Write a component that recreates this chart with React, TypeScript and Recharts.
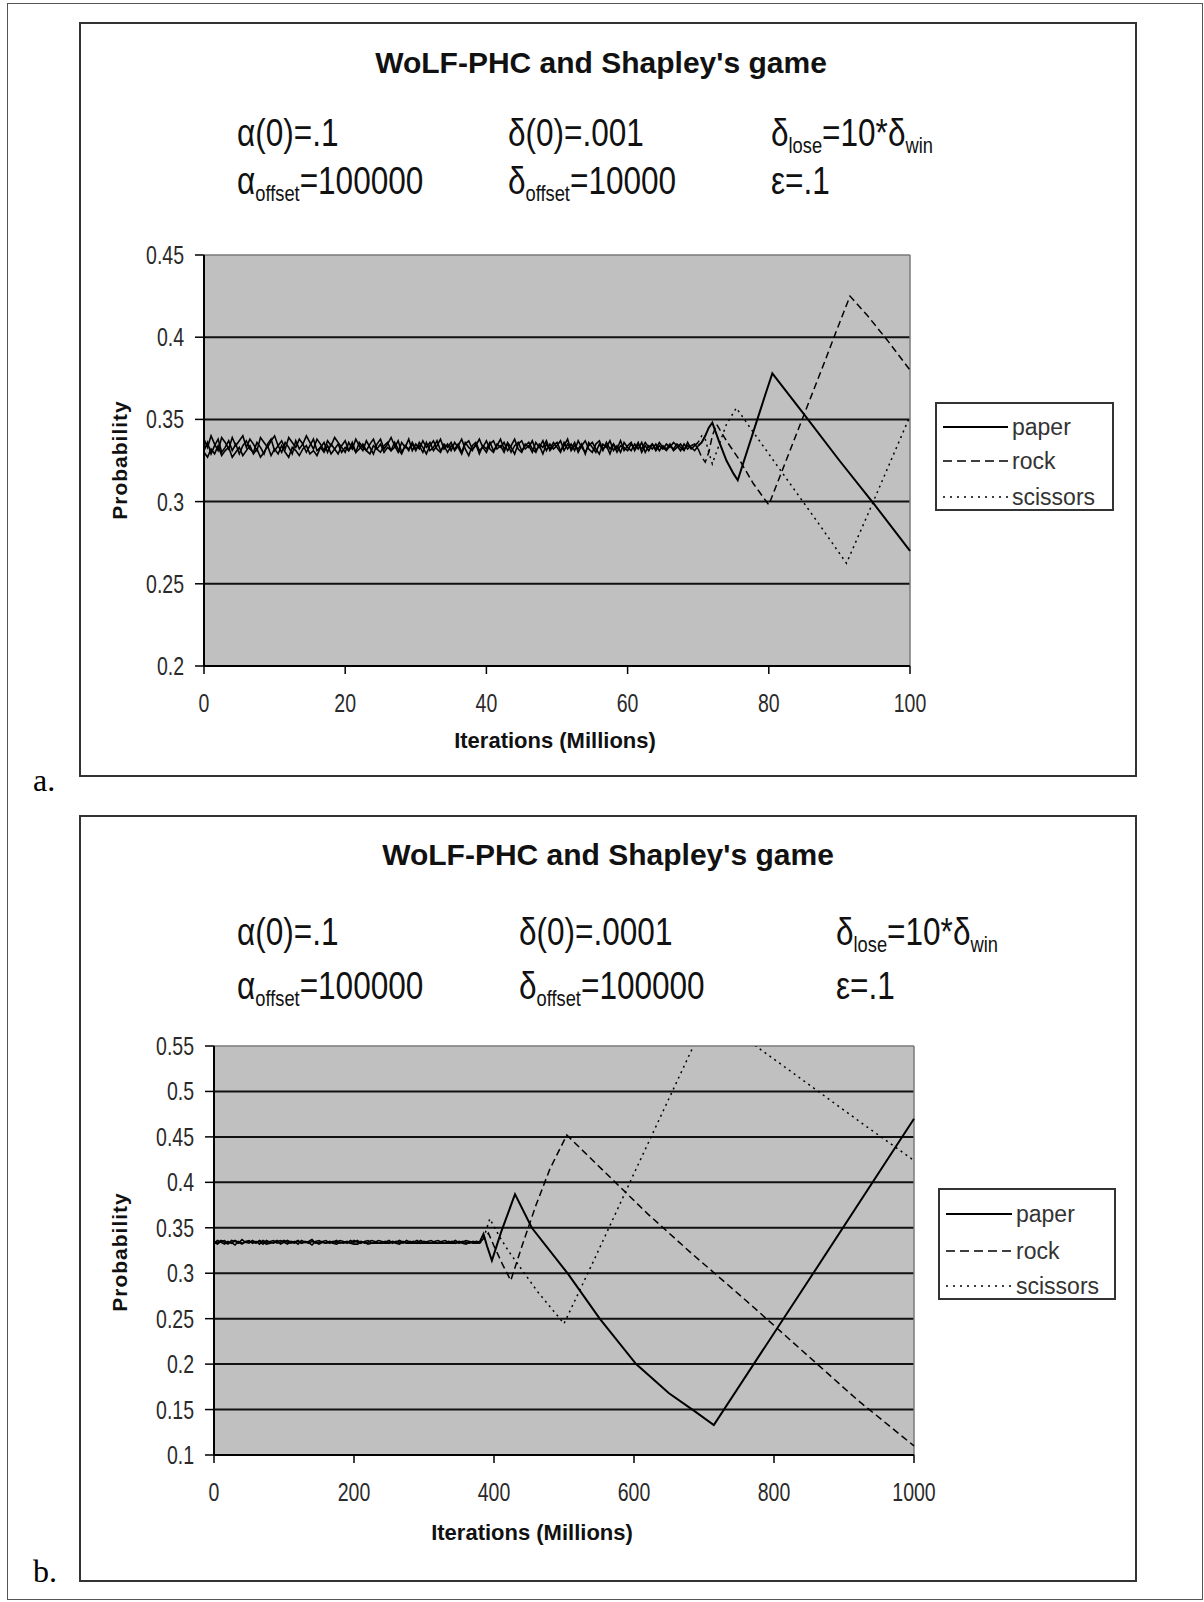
import React from "react";
import { LineChart, Line, XAxis, YAxis, CartesianGrid, ReferenceLine } from "recharts";

const SANS = "'Liberation Sans', Arial, Helvetica, sans-serif";
const SERIF = "'Liberation Serif', 'DejaVu Serif', serif";

// ---------- run (a): 0–100M iterations, sampled every 0.5M up to 70M ----------
const stepA = 0.5;
const paperNoiseA = [
  0.331, 0.336, 0.329, 0.334, 0.338, 0.33, 0.333, 0.337, 0.331, 0.335,
  0.329, 0.334, 0.337, 0.332, 0.33, 0.336, 0.333, 0.329, 0.335, 0.338,
  0.331, 0.334, 0.33, 0.336, 0.333, 0.329, 0.337, 0.332, 0.335, 0.33,
  0.334, 0.338, 0.331, 0.333, 0.336, 0.33, 0.335, 0.332, 0.329, 0.334,
  0.337, 0.331, 0.334, 0.33, 0.336, 0.333, 0.331, 0.335, 0.338, 0.332,
  0.33, 0.334, 0.336, 0.331, 0.333, 0.337, 0.33, 0.334, 0.332, 0.335,
  0.331, 0.336, 0.333, 0.329, 0.334, 0.337, 0.332, 0.33, 0.335, 0.333,
  0.336, 0.331, 0.334, 0.338, 0.332, 0.328, 0.334, 0.336, 0.331, 0.333,
  0.337, 0.332, 0.33, 0.335, 0.333, 0.336, 0.331, 0.334, 0.338, 0.332,
  0.33, 0.335, 0.333, 0.337, 0.331, 0.334, 0.329, 0.335, 0.332, 0.336,
  0.333, 0.33, 0.336, 0.332, 0.335, 0.331, 0.337, 0.333, 0.33, 0.334,
  0.336, 0.332, 0.329, 0.335, 0.333, 0.337, 0.331, 0.334, 0.33, 0.336,
  0.333, 0.331, 0.335, 0.332, 0.336, 0.33, 0.334, 0.332, 0.335, 0.331,
  0.334, 0.332, 0.335, 0.331, 0.333, 0.335, 0.332, 0.334, 0.333, 0.331,
  0.334,
];
const rockNoiseA = [
  0.338, 0.333, 0.34, 0.335, 0.331, 0.339, 0.336, 0.332, 0.339, 0.334,
  0.337, 0.34, 0.333, 0.338, 0.335, 0.331, 0.339, 0.336, 0.333, 0.337,
  0.34, 0.334, 0.337, 0.332, 0.339, 0.336, 0.333, 0.338, 0.335, 0.34,
  0.336, 0.332, 0.338, 0.335, 0.331, 0.337, 0.334, 0.339, 0.336, 0.333,
  0.33, 0.336, 0.332, 0.338, 0.334, 0.331, 0.337, 0.333, 0.329, 0.335,
  0.338, 0.332, 0.335, 0.339, 0.334, 0.33, 0.336, 0.333, 0.338, 0.331,
  0.335, 0.332, 0.337, 0.333, 0.336, 0.331, 0.334, 0.338, 0.332, 0.335,
  0.331, 0.336, 0.333, 0.329, 0.335, 0.337, 0.332, 0.334, 0.338, 0.333,
  0.33, 0.335, 0.337, 0.332, 0.334, 0.33, 0.336, 0.333, 0.329, 0.335,
  0.337, 0.332, 0.334, 0.33, 0.336, 0.333, 0.337, 0.331, 0.335, 0.332,
  0.334, 0.337, 0.331, 0.335, 0.332, 0.336, 0.33, 0.334, 0.337, 0.332,
  0.33, 0.335, 0.337, 0.332, 0.334, 0.329, 0.335, 0.332, 0.337, 0.331,
  0.334, 0.336, 0.331, 0.335, 0.332, 0.336, 0.333, 0.335, 0.331, 0.334,
  0.332, 0.335, 0.333, 0.336, 0.334, 0.331, 0.335, 0.332, 0.334, 0.335,
  0.332,
];
const scissorsNoiseA = [
  0.33, 0.327, 0.332, 0.329, 0.334, 0.328, 0.331, 0.333, 0.327, 0.33,
  0.333, 0.328, 0.331, 0.334, 0.329, 0.332, 0.327, 0.33, 0.334, 0.328,
  0.332, 0.329, 0.334, 0.33, 0.327, 0.333, 0.331, 0.328, 0.332, 0.334,
  0.329, 0.331, 0.328, 0.333, 0.33, 0.334, 0.329, 0.332, 0.335, 0.33,
  0.333, 0.331, 0.336, 0.33, 0.332, 0.335, 0.331, 0.329, 0.334, 0.332,
  0.335, 0.33, 0.333, 0.331, 0.336, 0.332, 0.329, 0.334, 0.331, 0.336,
  0.332, 0.334, 0.33, 0.336, 0.331, 0.333, 0.337, 0.331, 0.334, 0.33,
  0.334, 0.332, 0.335, 0.33, 0.336, 0.333, 0.331, 0.335, 0.329, 0.334,
  0.332, 0.336, 0.331, 0.334, 0.338, 0.332, 0.335, 0.33, 0.334, 0.336,
  0.331, 0.334, 0.336, 0.332, 0.33, 0.335, 0.333, 0.337, 0.331, 0.334,
  0.336, 0.331, 0.334, 0.338, 0.331, 0.334, 0.332, 0.335, 0.329, 0.336,
  0.333, 0.33, 0.335, 0.331, 0.336, 0.332, 0.335, 0.33, 0.334, 0.333,
  0.331, 0.335, 0.332, 0.336, 0.33, 0.334, 0.331, 0.335, 0.332, 0.336,
  0.333, 0.331, 0.334, 0.332, 0.335, 0.333, 0.331, 0.336, 0.332, 0.334,
  0.336,
];
// after 70M the policies start to cycle
const paperTailXA = [70.5, 71, 71.5, 72, 73, 74, 75, 75.6, 76.5, 78, 79.5, 80.5, 85, 90, 95, 100];
const paperTailA = [0.336, 0.34, 0.345, 0.348, 0.336, 0.325, 0.317, 0.313, 0.325, 0.345, 0.365, 0.378, 0.353, 0.325, 0.298, 0.27];
const rockTailXA = [70.5, 71, 71.5, 72, 72.6, 74, 75.9, 77.8, 80, 82, 84, 86, 88, 89.5, 91.5, 94, 97, 100];
const rockTailA = [0.327, 0.324, 0.33, 0.34, 0.347, 0.337, 0.325, 0.311, 0.298, 0.32, 0.342, 0.364, 0.386, 0.403, 0.425, 0.413, 0.397, 0.38];
const scissorsTailXA = [70.5, 71, 71.5, 72, 73, 74, 75.4, 78, 81, 84, 87, 91, 94, 97, 100];
const scissorsTailA = [0.34, 0.338, 0.33, 0.323, 0.335, 0.347, 0.357, 0.341, 0.323, 0.305, 0.287, 0.2625, 0.292, 0.322, 0.352];
const xTicksA = [0, 20, 40, 60, 80, 100];
const yTicksA = [0.2, 0.25, 0.3, 0.35, 0.4, 0.45];

// ---------- run (b): 0–1000M iterations, sampled every 5M up to 380M ----------
const stepB = 5;
const paperNoiseB = [
  0.335, 0.333, 0.336, 0.334, 0.332, 0.336, 0.335, 0.333, 0.337, 0.334,
  0.333, 0.336, 0.334, 0.335, 0.332, 0.336, 0.334, 0.333, 0.335, 0.336,
  0.334, 0.332, 0.335, 0.334, 0.336, 0.333, 0.335, 0.334, 0.331, 0.335,
  0.336, 0.334, 0.333, 0.335, 0.334, 0.336, 0.333, 0.334, 0.335, 0.333,
  0.336, 0.334, 0.335, 0.333, 0.334, 0.336, 0.335, 0.333, 0.334, 0.335,
  0.333, 0.335, 0.334, 0.336, 0.334, 0.333, 0.335, 0.334, 0.336, 0.333,
  0.335, 0.334, 0.333, 0.335, 0.336, 0.334, 0.333, 0.335, 0.334, 0.336,
  0.333, 0.335, 0.334, 0.333, 0.335, 0.334, 0.335,
];
const rockNoiseB = [
  0.333, 0.336, 0.334, 0.332, 0.335, 0.333, 0.336, 0.334, 0.332, 0.335,
  0.336, 0.333, 0.335, 0.332, 0.336, 0.334, 0.335, 0.336, 0.333, 0.334,
  0.336, 0.334, 0.333, 0.335, 0.332, 0.336, 0.334, 0.335, 0.337, 0.333,
  0.334, 0.335, 0.336, 0.333, 0.335, 0.334, 0.336, 0.335, 0.333, 0.336,
  0.334, 0.336, 0.333, 0.335, 0.336, 0.333, 0.334, 0.336, 0.335, 0.334,
  0.336, 0.333, 0.335, 0.334, 0.333, 0.336, 0.334, 0.335, 0.333, 0.336,
  0.334, 0.335, 0.336, 0.334, 0.333, 0.335, 0.336, 0.334, 0.335, 0.333,
  0.335, 0.334, 0.336, 0.335, 0.334, 0.335, 0.334,
];
const scissorsNoiseB = [
  0.334, 0.332, 0.335, 0.336, 0.333, 0.334, 0.331, 0.335, 0.333, 0.334,
  0.335, 0.334, 0.333, 0.336, 0.334, 0.332, 0.333, 0.334, 0.336, 0.332,
  0.334, 0.336, 0.334, 0.333, 0.335, 0.333, 0.334, 0.333, 0.335, 0.334,
  0.332, 0.334, 0.333, 0.334, 0.333, 0.332, 0.334, 0.333, 0.334, 0.333,
  0.332, 0.332, 0.334, 0.334, 0.332, 0.333, 0.333, 0.333, 0.333, 0.333,
  0.333, 0.334, 0.333, 0.332, 0.335, 0.333, 0.333, 0.333, 0.333, 0.333,
  0.333, 0.333, 0.333, 0.333, 0.333, 0.333, 0.333, 0.333, 0.333, 0.333,
  0.334, 0.333, 0.332, 0.334, 0.333, 0.333, 0.333,
];
const paperTailXB = [385, 390, 397, 410, 430, 454, 505, 551, 603, 650, 687, 714, 857, 1000];
const paperTailB = [0.343, 0.33, 0.314, 0.345, 0.387, 0.35, 0.3, 0.25, 0.2, 0.168, 0.148, 0.133, 0.301, 0.47];
const rockTailXB = [385, 392, 400, 412, 424, 440, 460, 480, 504, 560, 620, 682, 760, 840, 920, 1000];
const rockTailB = [0.338, 0.344, 0.33, 0.31, 0.292, 0.33, 0.375, 0.415, 0.452, 0.41, 0.365, 0.322, 0.27, 0.215, 0.16, 0.11];
const scissorsTailXB = [385, 394, 408, 422, 462, 500, 542, 602, 642, 685, 714, 745, 774, 842, 922, 1000];
const scissorsTailB = [0.338, 0.36, 0.34, 0.323, 0.28, 0.2445, 0.313, 0.413, 0.479, 0.55, 0.59, 0.57, 0.55, 0.512, 0.467, 0.424];
const xTicksB = [0, 200, 400, 600, 800, 1000];
const yTicksB = [0.1, 0.15, 0.2, 0.25, 0.3, 0.35, 0.4, 0.45, 0.5, 0.55];

type Pt = { x: number; y: number };
type Run = { name: string; noise: Pt[]; tail: Pt[] };

// the jittery early part is drawn solid for every series, the cycling part in the series' own style
const buildRun = (name: string, step: number, noise: number[], tailX: number[], tailY: number[]): Run => {
  const noisePts = noise.map((y, i) => ({ x: i * step, y }));
  return {
    name,
    noise: noisePts,
    tail: [noisePts[noisePts.length - 1], ...tailX.map((x, i) => ({ x, y: tailY[i] }))],
  };
};

const STYLES: Record<string, { width: number; dash?: string; legendDash?: string }> = {
  paper: { width: 2 },
  rock: { width: 1.5, dash: "7 4", legendDash: "9 5" },
  scissors: { width: 1.5, dash: "2 4", legendDash: "2 5" },
};

function NarrowTick(props: any) {
  const { x, y, payload, textAnchor, side, size } = props;
  const dy = side === "bottom" ? size * 0.78 : size * 0.36;
  return (
    <text
      transform={`translate(${x},${y}) scale(0.78,1)`}
      textAnchor={textAnchor}
      dy={dy}
      fontSize={size}
      fontFamily={SANS}
      fill="#2a2a2a"
    >
      {payload.value}
    </text>
  );
}

const Sub = ({ children }: { children: React.ReactNode }) => (
  <span style={{ fontSize: "0.58em", verticalAlign: "-0.32em" }}>{children}</span>
);

type PanelProps = {
  box: { left: number; top: number; width: number; height: number };
  plot: { left: number; top: number; right: number; bottom: number };
  xDomain: [number, number];
  xTicks: number[];
  yDomain: [number, number];
  yTicks: number[];
  runs: Run[];
  tickFont: number;
  title: { x: number; y: number };
  params: React.ReactNode[][];
  paramCols: number[];
  paramRows: number[];
  xLabel: { x: number; y: number };
  yLabel: { x: number; y: number };
  legend: { left: number; top: number; width: number; height: number; rows: number[]; sample: number; textX: number };
};

function Panel(p: PanelProps) {
  const YW = 60;
  const XH = 40;
  const margin = {
    top: p.plot.top - p.box.top,
    left: p.plot.left - p.box.left - YW,
    right: p.box.left + p.box.width - p.plot.right,
    bottom: p.box.top + p.box.height - p.plot.bottom - XH,
  };
  const lg = p.legend;
  return (
    <>
      <div
        style={{
          position: "absolute", left: p.box.left, top: p.box.top, width: p.box.width, height: p.box.height,
          border: "2px solid #333", boxSizing: "border-box",
        }}
      />
      <div style={{ position: "absolute", left: p.box.left, top: p.box.top }}>
        <LineChart width={p.box.width} height={p.box.height} margin={margin}>
          <CartesianGrid
            vertical={false}
            stroke="#111"
            strokeWidth={2}
            fill="#c0c0c0"
            fillOpacity={1}
            horizontalValues={p.yTicks.slice(0, -1)}
          />
          <ReferenceLine y={p.yDomain[1]} stroke="#7a7a7a" strokeWidth={1.5} />
          <ReferenceLine x={p.xDomain[1]} stroke="#7a7a7a" strokeWidth={1.5} />
          <XAxis
            type="number"
            dataKey="x"
            domain={p.xDomain}
            ticks={p.xTicks}
            height={XH}
            tickSize={8}
            tickMargin={18}
            axisLine={{ stroke: "#000", strokeWidth: 2 }}
            tickLine={{ stroke: "#000", strokeWidth: 1.5 }}
            tick={<NarrowTick side="bottom" size={p.tickFont} />}
          />
          <YAxis
            type="number"
            dataKey="y"
            domain={p.yDomain}
            ticks={p.yTicks}
            width={YW}
            allowDataOverflow
            tickSize={9}
            tickMargin={11}
            axisLine={{ stroke: "#000", strokeWidth: 2 }}
            tickLine={{ stroke: "#000", strokeWidth: 1.5 }}
            tick={<NarrowTick side="left" size={p.tickFont} />}
          />
          {p.runs.map((r) => (
            <Line
              key={`${r.name}-noise`}
              data={r.noise}
              dataKey="y"
              name={r.name}
              type="linear"
              stroke="#000"
              strokeWidth={1.6}
              dot={false}
              activeDot={false}
              isAnimationActive={false}
            />
          ))}
          {p.runs.map((r) => (
            <Line
              key={r.name}
              data={r.tail}
              dataKey="y"
              name={r.name}
              type="linear"
              stroke="#000"
              strokeWidth={STYLES[r.name].width}
              strokeDasharray={STYLES[r.name].dash}
              dot={false}
              activeDot={false}
              isAnimationActive={false}
            />
          ))}
        </LineChart>
      </div>

      <div
        style={{
          position: "absolute", left: p.title.x, top: p.title.y, transform: "translate(-50%, -50%)",
          fontSize: 30, fontWeight: 700, whiteSpace: "nowrap", lineHeight: "34px", color: "#111",
        }}
      >
        WoLF-PHC and Shapley's game
      </div>
      {p.params.map((row, r) =>
        row.map((cell, c) => (
          <div
            key={`${r}-${c}`}
            style={{
              position: "absolute", left: p.paramCols[c], top: p.paramRows[r] - 22,
              fontSize: 38, lineHeight: "44px", whiteSpace: "nowrap", color: "#111",
              transform: "scaleX(0.83)", transformOrigin: "left center",
            }}
          >
            {cell}
          </div>
        ))
      )}
      <div
        style={{
          position: "absolute", left: p.xLabel.x, top: p.xLabel.y, transform: "translate(-50%, -50%)",
          fontSize: 22, fontWeight: 700, whiteSpace: "nowrap", color: "#111",
        }}
      >
        Iterations (Millions)
      </div>
      <div
        style={{
          position: "absolute", left: p.yLabel.x, top: p.yLabel.y, transform: "translate(-50%, -50%) rotate(-90deg)",
          fontSize: 21, fontWeight: 700, whiteSpace: "nowrap", letterSpacing: 1, color: "#111",
        }}
      >
        Probability
      </div>

      <div
        style={{
          position: "absolute", left: lg.left, top: lg.top, width: lg.width, height: lg.height,
          border: "2px solid #333", boxSizing: "border-box", background: "#fff",
        }}
      >
        <svg width={lg.width - 4} height={lg.height - 4} style={{ display: "block" }}>
          {p.runs.map((r, i) => (
            <g key={r.name}>
              <line
                x1={6}
                x2={6 + lg.sample}
                y1={lg.rows[i]}
                y2={lg.rows[i]}
                stroke="#000"
                strokeWidth={STYLES[r.name].width}
                strokeDasharray={STYLES[r.name].legendDash}
              />
              <text
                x={lg.textX}
                y={lg.rows[i]}
                dominantBaseline="central"
                fontSize={23}
                fontFamily={SANS}
                fill="#333"
              >
                {r.name}
              </text>
            </g>
          ))}
        </svg>
      </div>
    </>
  );
}

const panelA: PanelProps = {
  box: { left: 79, top: 22, width: 1058, height: 755 },
  plot: { left: 204, top: 255, right: 910, bottom: 666 },
  xDomain: [0, 100],
  xTicks: xTicksA,
  yDomain: [0.2, 0.45],
  yTicks: yTicksA,
  runs: [
    buildRun("paper", stepA, paperNoiseA, paperTailXA, paperTailA),
    buildRun("rock", stepA, rockNoiseA, rockTailXA, rockTailA),
    buildRun("scissors", stepA, scissorsNoiseA, scissorsTailXA, scissorsTailA),
  ],
  tickFont: 25,
  title: { x: 601, y: 63 },
  params: [
    [<>α(0)=.1</>, <>δ(0)=.001</>, <>δ<Sub>lose</Sub>=10*δ<Sub>win</Sub></>],
    [<>α<Sub>offset</Sub>=100000</>, <>δ<Sub>offset</Sub>=10000</>, <>ε=.1</>],
  ],
  paramCols: [237, 508, 771],
  paramRows: [133, 181],
  xLabel: { x: 555, y: 741 },
  yLabel: { x: 120, y: 460 },
  legend: { left: 935, top: 402, width: 179, height: 109, rows: [23, 57, 93], sample: 65, textX: 75 },
};

const panelB: PanelProps = {
  box: { left: 79, top: 815, width: 1058, height: 767 },
  plot: { left: 214, top: 1046, right: 914, bottom: 1455 },
  xDomain: [0, 1000],
  xTicks: xTicksB,
  yDomain: [0.1, 0.55],
  yTicks: yTicksB,
  runs: [
    buildRun("paper", stepB, paperNoiseB, paperTailXB, paperTailB),
    buildRun("rock", stepB, rockNoiseB, rockTailXB, rockTailB),
    buildRun("scissors", stepB, scissorsNoiseB, scissorsTailXB, scissorsTailB),
  ],
  tickFont: 25,
  title: { x: 608, y: 855 },
  params: [
    [<>α(0)=.1</>, <>δ(0)=.0001</>, <>δ<Sub>lose</Sub>=10*δ<Sub>win</Sub></>],
    [<>α<Sub>offset</Sub>=100000</>, <>δ<Sub>offset</Sub>=100000</>, <>ε=.1</>],
  ],
  paramCols: [237, 519, 836],
  paramRows: [932, 986],
  xLabel: { x: 532, y: 1533 },
  yLabel: { x: 120, y: 1252 },
  legend: { left: 938, top: 1188, width: 178, height: 112, rows: [24, 61, 96], sample: 66, textX: 76 },
};

export default function App() {
  return (
    <div
      style={{
        position: "absolute", left: 0, top: 0, width: 1204, height: 1602,
        background: "#fff", fontFamily: SANS, overflow: "hidden",
      }}
    >
      <div
        style={{
          position: "absolute", left: 7, top: 3, width: 1196, height: 1597,
          border: "1.5px solid #555", boxSizing: "border-box",
        }}
      />
      <Panel {...panelA} />
      <Panel {...panelB} />
      <div style={{ position: "absolute", left: 33, top: 762, fontFamily: SERIF, fontSize: 32, lineHeight: "36px" }}>a.</div>
      <div style={{ position: "absolute", left: 33, top: 1553, fontFamily: SERIF, fontSize: 32, lineHeight: "36px" }}>b.</div>
    </div>
  );
}
